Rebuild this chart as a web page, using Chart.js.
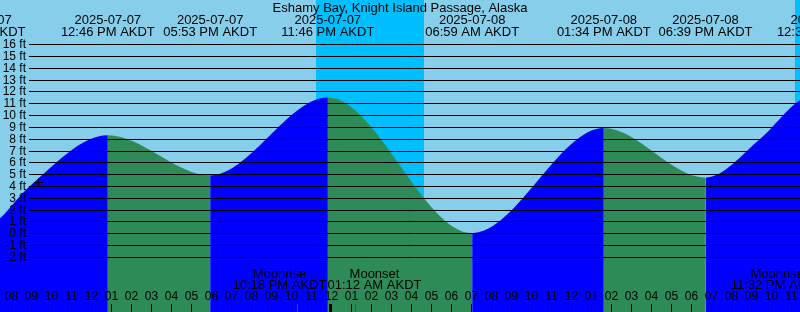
<!DOCTYPE html>
<html>
<head>
<meta charset="utf-8">
<script src="https://cdn.jsdelivr.net/npm/chart.js@4.4.0/dist/chart.umd.min.js"></script>
<style>
html, body { margin: 0; padding: 0; background: #87ceeb; }
#tideChart { display: block; }
</style>
</head>
<body>
<canvas id="tideChart" width="800" height="312"></canvas>
<script>
// all times are hours counted from midnight 2025-07-08 AKDT
const title = 'Eshamy Bay, Knight Island Passage, Alaska';

// water level (ft): the highs and lows plus a few readings near the edges
const tideHours  = [-17.7, -16.625, -15.125, -11.233, -6.117, -0.233, 6.983, 13.567, 18.65, 21.375, 23.375, 24.567];
const tideLevels = [-0.3, 1.25, 4.0, 8.3, 4.9, 11.5, 0.0, 8.9, 4.7, 7.97, 11.28, 12.0];

// labels for highs and lows along the top
const extremeHours = [-17.7, -11.233, -6.117, -0.233, 6.983, 13.567, 18.65, 24.567];
const extremeDates = ['2025-07-07', '2025-07-07', '2025-07-07', '2025-07-07', '2025-07-08', '2025-07-08', '2025-07-08', '2025-07-09'];
const extremeTimes = ['06:18 AM AKDT', '12:46 PM AKDT', '05:53 PM AKDT', '11:46 PM AKDT', '06:59 AM AKDT', '01:34 PM AKDT', '06:39 PM AKDT', '12:34 AM AKDT'];

// moon events
const moonHours = [-1.7, 1.2, 23.533];
const moonNames = ['Moonrise', 'Moonset', 'Moonrise'];
const moonTimes = ['10:18 PM AKDT', '01:12 AM AKDT', '11:32 PM AKDT'];

// night (sunset -> sunrise)
const nightStart = [-0.825, 23.125];
const nightEnd = [4.575, 28.5];

// axis labels
const levelTicks = [16, 15, 14, 13, 12, 11, 10, 9, 8, 7, 6, 5, 4, 3, 2, 1, 0, -1, -2];
const firstHour = -16;
const hourLabels = ['08', '09', '10', '11', '12', '01', '02', '03', '04', '05', '06', '07',
    '08', '09', '10', '11', '12', '01', '02', '03', '04', '05', '06', '07',
    '08', '09', '10', '11', '12', '01', '02', '03', '04', '05', '06', '07',
    '08', '09', '10', '11'];

// current-level mark
const markHour = -14.74;
const markLevel = 4.3;

const RISE = '#0000ff';
const FALL = '#2e8b57';
const DAY = '#87ceeb';
const NIGHT = '#00bfff';
const SMALL = '12px "Liberation Sans", Arial, sans-serif';
const LABEL = '13px "Liberation Sans", Arial, sans-serif';

const backdrop = {
    id: 'backdrop',
    beforeDatasetsDraw(chart) {
        const { ctx, chartArea: a, scales: { x } } = chart;
        ctx.save();
        ctx.fillStyle = DAY;
        ctx.fillRect(a.left, a.top, a.width, a.height);
        ctx.fillStyle = NIGHT;
        nightStart.forEach((s, i) => {
            const x0 = Math.round(x.getPixelForValue(s));
            const x1 = Math.round(x.getPixelForValue(nightEnd[i]));
            ctx.fillRect(x0, a.top, x1 - x0, a.height);
        });
        ctx.restore();
    }
};

const overlay = {
    id: 'overlay',
    afterDatasetsDraw(chart) {
        const { ctx, chartArea: a, scales: { x, y } } = chart;
        ctx.save();
        ctx.font = SMALL;
        ctx.fillStyle = '#000';
        ctx.strokeStyle = '#000';
        ctx.lineWidth = 1;

        // level lines and labels
        ctx.textAlign = 'right';
        ctx.textBaseline = 'middle';
        levelTicks.forEach(v => {
            const py = Math.round(y.getPixelForValue(v)) + 0.5;
            ctx.beginPath();
            ctx.moveTo(29, py);
            ctx.lineTo(a.right, py);
            ctx.stroke();
            ctx.fillText(v + ' ft', 26, py);
        });

        // mark
        const mx = Math.round(x.getPixelForValue(markHour)) + 0.5;
        const my = Math.round(y.getPixelForValue(markLevel)) + 0.5;
        ctx.beginPath();
        ctx.moveTo(mx - 4.5, my); ctx.lineTo(mx + 4.5, my);
        ctx.moveTo(mx, my - 4); ctx.lineTo(mx, my + 4);
        ctx.stroke();

        // hour labels and ticks
        ctx.textAlign = 'center';
        hourLabels.forEach((lab, i) => {
            const h = firstHour + i;
            const px = x.getPixelForValue(h);
            ctx.fillText(lab, px - 1, 297);
            if (h % 24 === 0) {
                ctx.fillRect(Math.floor(px) - 3, 304, 3, 8);
            } else {
                ctx.fillRect(Math.floor(px) - 1, 304, 1, 8);
            }
        });

        // highs and lows
        ctx.font = LABEL;
        extremeHours.forEach((h, i) => {
            const px = x.getPixelForValue(h);
            ctx.fillText(extremeDates[i], px, 20);
            ctx.fillText(extremeTimes[i], px, 32);
        });
        ctx.fillText(title, 400, 8);

        // moon events
        const shift = [-19, 18, -26];
        moonHours.forEach((h, i) => {
            const px = x.getPixelForValue(h);
            ctx.fillStyle = '#000';
            ctx.fillText(moonNames[i], px + shift[i], 274);
            ctx.fillText(moonTimes[i], px + shift[i], 285);
            ctx.fillStyle = '#ff0000';
            ctx.fillRect(Math.floor(px) - 1, 304, 1, 8);
        });
        ctx.restore();
    }
};

new Chart(document.getElementById('tideChart'), {
    type: 'line',
    data: {
        datasets: [{
            data: tideHours.map((h, i) => ({ x: h, y: tideLevels[i] })),
            fill: 'start',
            borderWidth: 0,
            pointRadius: 0,
            cubicInterpolationMode: 'monotone',
            backgroundColor: RISE,
            segment: {
                // rising water is blue, falling water is green
                backgroundColor: c => c.p1.parsed.y > c.p0.parsed.y ? RISE : FALL
            }
        }]
    },
    options: {
        responsive: false,
        animation: false,
        layout: { padding: 0 },
        scales: {
            x: { type: 'linear', display: false, min: -16.625, max: 23.375 },
            y: { type: 'linear', display: false, min: -6.686, max: 19.754 }
        },
        plugins: {
            legend: { display: false },
            tooltip: { enabled: false }
        }
    },
    plugins: [backdrop, overlay]
});
</script>
</body>
</html>
